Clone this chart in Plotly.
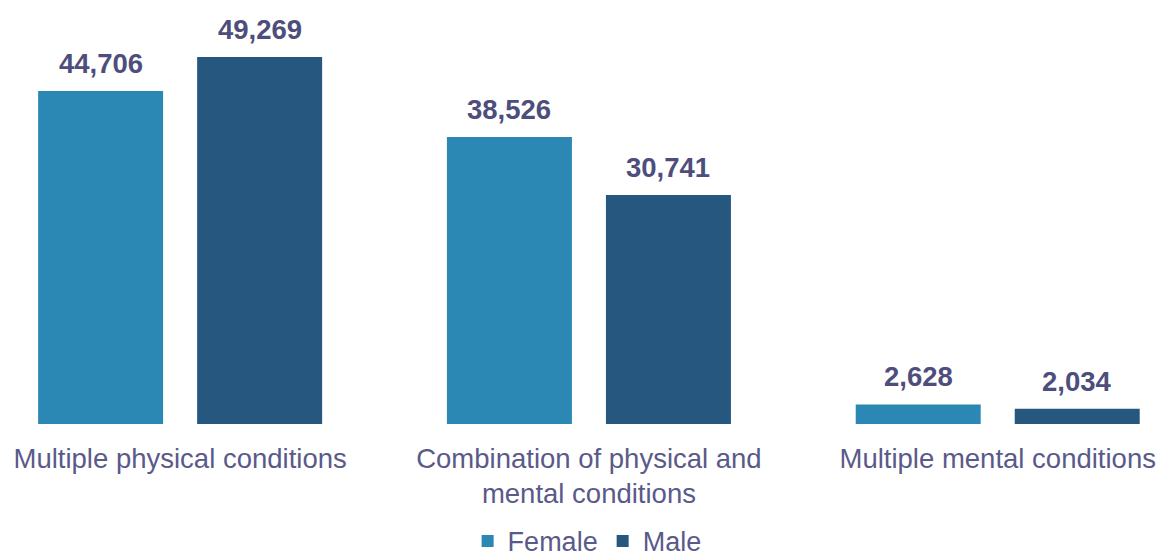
import plotly.graph_objects as go

# Number of people by type of multimorbidity, split by sex
categories = [
    "Multiple physical conditions",
    "Combination of physical and<br>mental conditions",
    "Multiple mental conditions",
]
female_values = [44706, 38526, 2628]
male_values = [49269, 30741, 2034]

FEMALE_COLOR = "#2B88B4"
MALE_COLOR = "#26577F"
TEXT_COLOR = "#5A5A8A"
LABEL_COLOR = "#4E4E7C"
FONT = "Arial, Liberation Sans, sans-serif"

fig = go.Figure()
fig.add_trace(go.Bar(name="Female", x=categories, y=female_values,
                     marker=dict(color=FEMALE_COLOR, line=dict(width=0))))
fig.add_trace(go.Bar(name="Male", x=categories, y=male_values,
                     marker=dict(color=MALE_COLOR, line=dict(width=0))))

# Value labels above each bar (offset horizontally to each bar of the group)
annotations = []
for vals, shift in ((female_values, -79.5), (male_values, 79.5)):
    for cat, v in zip(categories, vals):
        annotations.append(dict(
            x=cat, y=v, xref="x", yref="y", text=f"<b>{v:,}</b>",
            showarrow=False, xshift=shift, yanchor="bottom", yshift=10,
            font=dict(family=FONT, size=27.5, color=LABEL_COLOR),
        ))

fig.update_layout(
    width=1161, height=555,
    margin=dict(l=0, r=0, t=0, b=131, autoexpand=False),
    paper_bgcolor="white", plot_bgcolor="white",
    barmode="group", bargap=0.222, bargroupgap=0.214,
    font=dict(family=FONT, size=27.5, color=TEXT_COLOR),
    xaxis=dict(range=[-0.4406, 2.3994], showline=False, showgrid=False,
               zeroline=False, ticks="", ticklabelstandoff=15, automargin=False,
               tickfont=dict(size=27.5, color=TEXT_COLOR)),
    yaxis=dict(range=[0, 56922], visible=False, showgrid=False, zeroline=False),
    legend=dict(orientation="h", x=0.5057, xanchor="center",
                yref="container", y=0.0245, yanchor="middle",
                font=dict(size=27, color=TEXT_COLOR), bgcolor="rgba(0,0,0,0)"),
    annotations=annotations,
    showlegend=True,
)

fig.write_html("out.html")
